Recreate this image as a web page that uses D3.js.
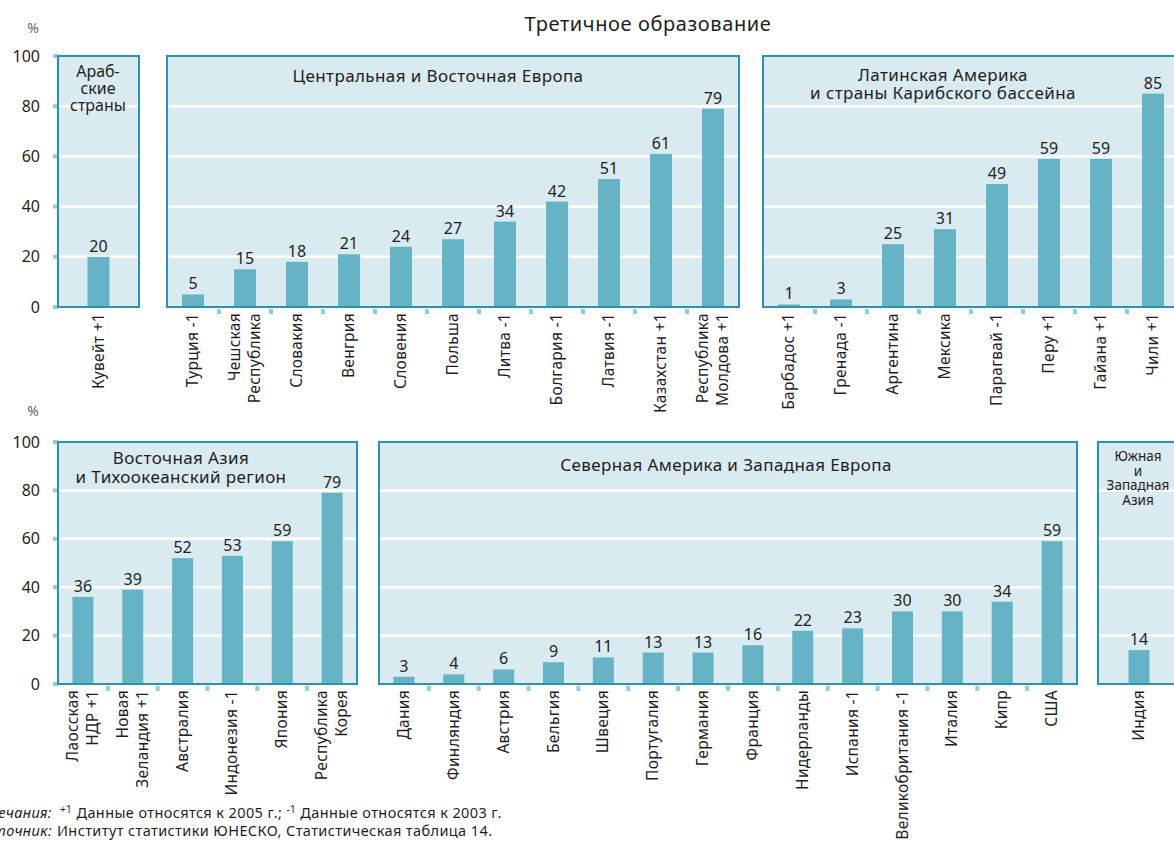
<!DOCTYPE html>
<html>
<head>
<meta charset="utf-8">
<script src="https://cdn.jsdelivr.net/npm/d3@7"></script>
<style>
	body { margin: 0; background: #fff; }
	svg { display: block; font-family: "Noto Sans", "Open Sans", sans-serif; }
</style>
</head>
<body>
<svg id="chart" width="1174" height="841"></svg>
<script>
// values
const yTicks = [0, 20, 40, 60, 80, 100];

const arabNames = ["Кувейт +1"];
const arabValues = [20];

const ceeNames = ["Турция -1", "Чешская\nРеспублика", "Словакия", "Венгрия", "Словения", "Польша",
	"Литва -1", "Болгария -1", "Латвия -1", "Казахстан +1", "Республика\nМолдова +1"];
const ceeValues = [5, 15, 18, 21, 24, 27, 34, 42, 51, 61, 79];

const latamNames = ["Барбадос +1", "Гренада -1", "Аргентина", "Мексика", "Парагвай -1", "Перу +1", "Гайана +1", "Чили +1"];
const latamValues = [1, 3, 25, 31, 49, 59, 59, 85];

const easiaNames = ["Лаосская\nНДР +1", "Новая\nЗеландия +1", "Австралия", "Индонезия -1", "Япония", "Республика\nКорея"];
const easiaValues = [36, 39, 52, 53, 59, 79];

const naweNames = ["Дания", "Финляндия", "Австрия", "Бельгия", "Швеция", "Португалия", "Германия", "Франция",
	"Нидерланды", "Испания -1", "Великобритания -1", "Италия", "Кипр", "США"];
const naweValues = [3, 4, 6, 9, 11, 13, 13, 16, 22, 23, 30, 30, 34, 59];

const swasiaNames = ["Индия"];
const swasiaValues = [14];

const chartTitle = "Третичное образование";
const footNote = "Данные относятся к 2005 г.; ";
const footNote2 = "Данные относятся к 2003 г.";
const sourceText = "Институт статистики ЮНЕСКО, Статистическая таблица 14.";

const svg = d3.select("#chart");

var colors = {fill: "#d9eaf1", border: "#2b93ab", bar: "#67b3c6", tick: "#8ecfdc", text: "#1e1e1e"};

// two rows of panels, each with its own y scale
var rows = [
	{y: d3.scaleLinear().domain([0, 100]).range([307, 56]), pct: 33, labelTop: 313},
	{y: d3.scaleLinear().domain([0, 100]).range([684, 442]), pct: 416, labelTop: 690}
];

var panels = [
	{row: 0, names: arabNames, values: arabValues, x0: 58, x1: 139,
		title: ["Араб-", "ские", "страны"], tx: 98, ty: 77, lh: 17, fs: 16},
	{row: 0, names: ceeNames, values: ceeValues, x0: 167, x1: 739,
		title: ["Центральная и Восточная Европа"], tx: 438, ty: 82, lh: 18, fs: 17},
	{row: 0, names: latamNames, values: latamValues, x0: 763, x1: 1179,
		title: ["Латинская Америка", "и страны Карибского бассейна"], tx: 943, ty: 81, lh: 18, fs: 17},
	{row: 1, names: easiaNames, values: easiaValues, x0: 58, x1: 357,
		title: ["Восточная Азия", "и Тихоокеанский регион"], tx: 181, ty: 464, lh: 19, fs: 17},
	{row: 1, names: naweNames, values: naweValues, x0: 379, x1: 1077,
		title: ["Северная Америка и Западная Европа"], tx: 726, ty: 471, lh: 18, fs: 17},
	{row: 1, names: swasiaNames, values: swasiaValues, x0: 1098, x1: 1180,
		title: ["Южная", "и", "Западная", "Азия"], tx: 1138, ty: 461, lh: 14.5, fs: 13.5}
];

svg.append("text")
	.attr("x", 648).attr("y", 31)
	.attr("text-anchor", "middle")
	.attr("font-size", 20)
	.attr("letter-spacing", 0.6)
	.attr("fill", colors.text)
	.text(chartTitle);

rows.forEach(r => {
	svg.append("text")
		.attr("x", 33).attr("y", r.pct)
		.attr("text-anchor", "middle")
		.attr("font-size", 14)
		.attr("fill", "#666")
		.text("%");

	var ax = svg.append("g")
		.attr("transform", "translate(55,0)")
		.call(d3.axisLeft(r.y).tickValues(yTicks).tickSize(0).tickPadding(15));
	ax.select(".domain").remove();
	ax.selectAll("text")
		.attr("font-size", 16)
		.attr("font-family", "Noto Sans, sans-serif")
		.attr("fill", colors.text);

	svg.selectAll(null)
		.data(yTicks)
		.enter().append("rect")
			.attr("x", 53).attr("y", d => r.y(d) - 2)
			.attr("width", 5).attr("height", 4)
			.attr("fill", colors.tick);
});

panels.forEach(p => {
	var y = rows[p.row].y;
	var x = d3.scaleBand().domain(p.names).range([p.x0, p.x1]);
	var g = svg.append("g");
	var barW = p.row == 0 ? 22 : 21;

	g.append("rect")
		.attr("x", p.x0).attr("y", y(100))
		.attr("width", p.x1 - p.x0).attr("height", y(0) - y(100))
		.attr("fill", colors.fill);

	g.selectAll(".grid")
		.data(yTicks.slice(1, -1))
		.enter().append("line")
			.attr("x1", p.x0).attr("x2", p.x1)
			.attr("y1", d => y(d)).attr("y2", d => y(d))
			.attr("stroke", "#fff")
			.attr("stroke-width", 2.5);

	g.selectAll(".bar")
		.data(p.values)
		.enter().append("rect")
			.attr("x", (d, i) => x(p.names[i]) + x.bandwidth() / 2 - barW / 2)
			.attr("width", barW)
			.attr("y", d => y(d))
			.attr("height", d => y(0) - y(d))
			.attr("fill", colors.bar);

	g.selectAll(".val")
		.data(p.values)
		.enter().append("text")
			.attr("x", (d, i) => x(p.names[i]) + x.bandwidth() / 2)
			.attr("y", d => y(d) - 5)
			.attr("text-anchor", "middle")
			.attr("font-size", 16)
			.attr("fill", colors.text)
			.text(d => d);

	g.append("rect")
		.attr("x", p.x0).attr("y", y(100))
		.attr("width", p.x1 - p.x0).attr("height", y(0) - y(100))
		.attr("fill", "none")
		.attr("stroke", colors.border)
		.attr("stroke-width", 2);

	// little squares between the bars, under the base line
	g.selectAll(".sep")
		.data(p.names.slice(1))
		.enter().append("rect")
			.attr("x", d => x(d) - 2)
			.attr("y", y(0) + 2)
			.attr("width", 4).attr("height", 5)
			.attr("fill", colors.tick);

	var t = g.append("text")
		.attr("text-anchor", "middle")
		.attr("font-size", p.fs)
		.attr("letter-spacing", p.fs > 16 ? 0.4 : 0)
		.attr("fill", colors.text);
	t.selectAll("tspan")
		.data(p.title)
		.enter().append("tspan")
			.attr("x", p.tx)
			.attr("y", (d, i) => p.ty + i * p.lh)
			.text(d => d);

	// rotated country names
	var lab = g.selectAll(".lab")
		.data(p.names)
		.enter().append("text")
			.attr("transform", d => "translate(" + (x(d) + x.bandwidth() / 2) + "," + rows[p.row].labelTop + ") rotate(-90)")
			.attr("text-anchor", "end")
			.attr("font-size", 15.5)
			.attr("letter-spacing", 0.3)
			.attr("fill", colors.text);
	lab.each(function(d) {
		var lines = d.split("\n");
		d3.select(this).selectAll("tspan")
			.data(lines)
			.enter().append("tspan")
				.attr("x", 0)
				.attr("y", (l, i) => (i - (lines.length - 1) / 2) * 20 + 5)
				.text(l => l);
	});
});

// notes at the bottom
svg.append("text").attr("x", 52).attr("y", 818).attr("text-anchor", "end")
	.attr("font-size", 14.5).attr("letter-spacing", 0.4).attr("font-style", "italic").attr("fill", colors.text)
	.text("Примечания:");
var n1b = svg.append("text").attr("x", 60).attr("y", 818)
	.attr("font-size", 14.5).attr("letter-spacing", 0.4).attr("fill", colors.text);
n1b.append("tspan").attr("font-size", 10).attr("dy", -5).text("+1");
n1b.append("tspan").attr("dy", 5).text(" " + footNote);
n1b.append("tspan").attr("font-size", 10).attr("dy", -5).text("-1");
n1b.append("tspan").attr("dy", 5).text(" " + footNote2);

svg.append("text").attr("x", 52).attr("y", 836).attr("text-anchor", "end")
	.attr("font-size", 14.5).attr("letter-spacing", 0.4).attr("font-style", "italic").attr("fill", colors.text)
	.text("Источник:");
svg.append("text").attr("x", 57).attr("y", 836)
	.attr("font-size", 14.5).attr("letter-spacing", 0.4).attr("fill", colors.text)
	.text(sourceText);
</script>
</body>
</html>
